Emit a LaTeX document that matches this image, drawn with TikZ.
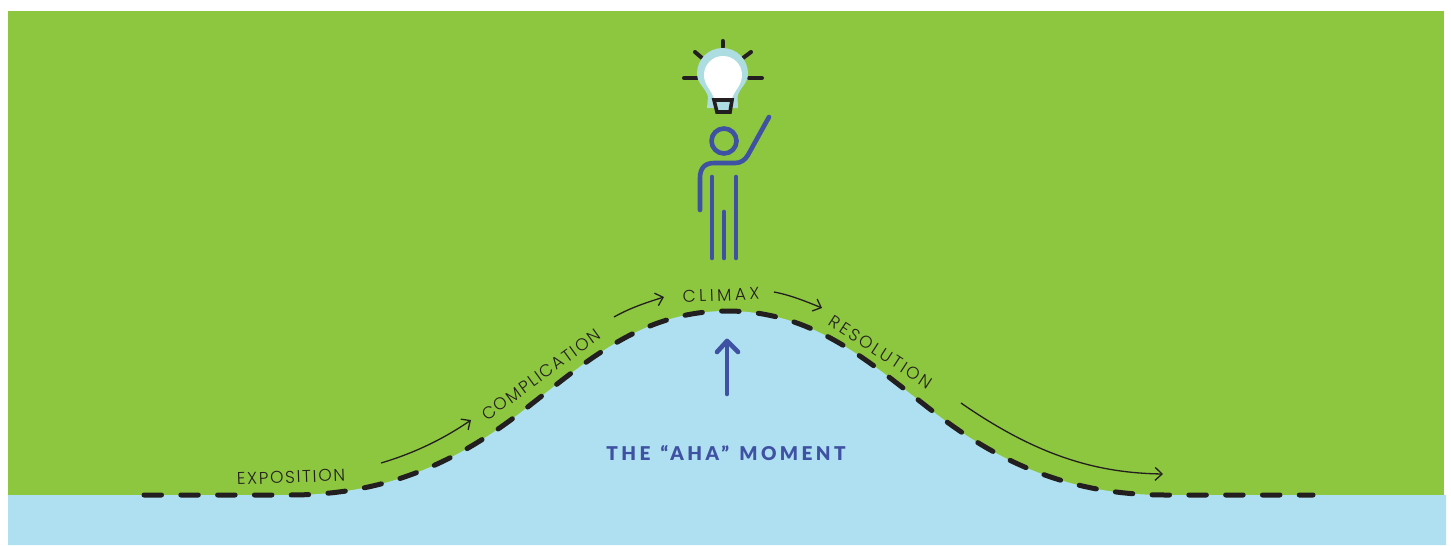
\documentclass[tikz,border=0pt]{standalone}
\usepackage{fontspec}
\setmainfont{Lato}
\newfontfamily\stagefont[LetterSpace=10]{Poppins Light}
\newfontfamily\resolutionfont[LetterSpace=14]{Poppins Light}
\newfontfamily\climaxfont[LetterSpace=20]{Poppins Light}
\newfontfamily\ahafont[LetterSpace=18,WordSpace=1.3]{Lato Black}
\usetikzlibrary{arrows.meta}
\definecolor{hillgreen}{RGB}{141, 198, 63}
\definecolor{hillblue}{RGB}{175, 224, 241}
\definecolor{figureblue}{RGB}{63, 81, 163}
\definecolor{inkdark}{RGB}{35, 31, 32}
\definecolor{bulbblue}{RGB}{173, 221, 224}
\tikzset{
  stagelabel/.style={font=\stagefont\fontsize{17}{17}\selectfont, text=inkdark, inner sep=0pt},
  stagearrow/.style={draw=inkdark, line width=1.3pt, -{Straight Barb[length=7pt, width=13pt, line width=1.3pt]}},
  figureline/.style={draw=figureblue, line width=4.6pt, line cap=round, line join=round},
  rayline/.style={draw=inkdark, line width=4pt, line cap=round}
}
\begin{document}
\begin{tikzpicture}[x=1pt, y=-1pt]
\useasboundingbox (0,0) rectangle (1451,546);
% ground and hill
\fill[hillgreen] (8,11) rectangle (1444,495);
\fill[hillblue] (8,495) -- (290,495) .. controls (385,495) and (455,463) .. (520,413) .. controls (585,363) and (640,311) .. (727,311) .. controls (815,311) and (870,363) .. (935,413) .. controls (1000,463) and (1070,495) .. (1165,495) -- (1446,495) -- (1446,545) -- (8,545) -- cycle;
% dashed line
\draw[inkdark, line width=5pt, line cap=round, dash pattern=on 17.5pt off 19.3pt] (144,495) -- (290,495) .. controls (385,495) and (455,463) .. (520,413) .. controls (585,363) and (640,311) .. (727,311) .. controls (815,311) and (870,363) .. (935,413) .. controls (1000,463) and (1070,495) .. (1165,495) -- (1313,495);
% labels
\node[stagelabel, rotate=2] (exposition) at (291,477) {EXPOSITION};
\node[stagelabel, rotate=36] (complication) at (541,375) {COMPLICATION};
\node[stagelabel, font=\climaxfont\fontsize{17}{17}\selectfont, rotate=2] (climax) at (721,295) {CLIMAX};
\node[stagelabel, font=\resolutionfont\fontsize{17}{17}\selectfont, rotate=-33] (resolution) at (881,352) {RESOLUTION};
\node[font=\ahafont\fontsize{19}{19}\selectfont, text=figureblue, inner sep=0pt] (aha) at (726,453) {THE “AHA” MOMENT};
% arrows between labels
\coordinate (a1) at (381,463);
\coordinate (a2) at (471,420);
\coordinate (b1) at (614,317);
\coordinate (b2) at (664,297);
\coordinate (c1) at (774,292);
\coordinate (c2) at (822,308);
\coordinate (d1) at (961,403);
\coordinate (d2) at (1163,474);
\draw[stagearrow] (a1) .. controls (415,453) and (445,438) .. (a2);
\draw[stagearrow] (b1) .. controls (630,308) and (645,303) .. (b2);
\draw[stagearrow] (c1) .. controls (790,295) and (805,301) .. (c2);
\draw[stagearrow] (d1) .. controls (1040,458) and (1100,473) .. (d2);
% up arrow
\coordinate (u1) at (727,394);
\coordinate (u2) at (727,341);
\draw[figureline] (u1) -- (u2);
\draw[figureline] (717,352) -- (u2) -- (738,352);
% bulb
\draw[rayline] (722.7,41) -- (722.7,47);
\draw[rayline] (695,52) -- (702,58);
\draw[rayline] (751,52) -- (743,58);
\draw[rayline] (684,78) -- (697,78);
\draw[rayline] (749,78) -- (762,78);
\fill[bulbblue] (707,108) -- (708,97) .. controls (706,88) and (697,84) .. (697,73.5) .. controls (697,59.4) and (708.4,48) .. (722.5,48) .. controls (736.6,48) and (748,59.4) .. (748,73.5) .. controls (748,84) and (739,88) .. (737.5,97) -- (738,108) -- cycle;
\fill[white] (714.5,100) .. controls (712,90) and (704,86) .. (704,75) .. controls (704,64.5) and (712.5,56) .. (723,56) .. controls (733.5,56) and (742,64.5) .. (742,75) .. controls (742,86) and (734,90) .. (731.5,100) -- cycle;
\draw[inkdark, line width=3.6pt, fill=bulbblue, line join=miter] (714,100) -- (732,100) -- (730,112) -- (717,112) -- cycle;
% figure
\draw[figureline] (724,141) circle (12.5);
\draw[figureline] (700,210) -- (700,178) .. controls (700,168) and (705,163) .. (714,163) -- (735,163) .. controls (741,163) and (745,160) .. (748,155) -- (769,117);
\draw[figureline] (712,177) -- (712,258);
\draw[figureline] (736,177) -- (736,258);
\draw[figureline] (724,212) -- (724,258);
\end{tikzpicture}
\end{document}
